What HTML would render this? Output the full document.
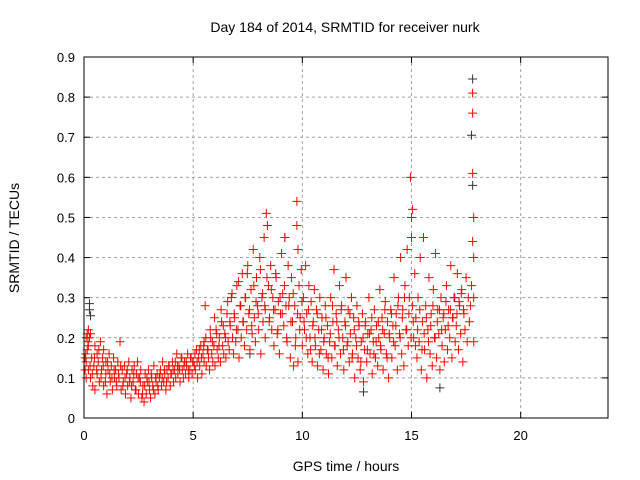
<!DOCTYPE html>
<html><head><meta charset="utf-8"><style>
html,body{margin:0;padding:0;background:#fff;}
svg{display:block;font-family:"Liberation Sans",sans-serif;}
</style></head><body>
<svg id="chart" width="640" height="480">
<text x="345" y="32" font-size="14" text-anchor="middle">Day 184 of 2014, SRMTID for receiver nurk</text>
<text x="346" y="471" font-size="14" text-anchor="middle">GPS time / hours</text>
<text transform="translate(19,238) rotate(-90)" font-size="14" text-anchor="middle">SRMTID / TECUs</text>
<g id="grid"></g>
<g id="ticks"></g>
<g id="marks-black"></g>
<g id="marks-red"></g>
<rect x="84" y="57" width="524" height="361" fill="none" stroke="#000" stroke-width="1"/>
</svg>
<script>
const xTicks=[0,5,10,15,20];
const yTicks=[0,0.1,0.2,0.3,0.4,0.5,0.6,0.7,0.8,0.9];
const yTickLabels=["0","0.1","0.2","0.3","0.4","0.5","0.6","0.7","0.8","0.9"];
const blackHours=[0.25,0.25,0.3,12.8,16.3,17.8,17.8,17.75,9.2,7.6];
const blackValues=[0.27,0.285,0.255,0.065,0.075,0.845,0.58,0.705,0.45,0.16];
const redHours=[0.05,0.05,0.1,0.1,0.1,0.15,0.15,0.2,0.2,0.2,0.25,0.3,0.3,0.35,0.4,0.45,0.5,0.5,0.6,0.6,0.65,0.7,0.75,0.8,0.85,0.9,0.9,1.0,1.0,1.05,1.1,1.15,1.2,1.25,1.3,1.35,1.4,1.45,1.5,1.55,1.6,1.65,1.7,1.75,1.8,1.85,1.9,1.95,2.0,2.05,2.1,2.15,2.2,2.25,2.3,2.35,2.4,2.45,2.5,2.55,2.6,2.65,2.7,2.75,2.8,2.85,2.9,2.95,3.0,3.05,3.1,3.15,3.2,3.25,3.3,3.35,3.4,3.45,3.5,3.55,3.6,3.65,3.7,3.75,3.8,3.85,3.9,3.95,4.0,4.05,4.1,4.15,4.2,4.25,4.3,4.35,4.4,4.45,4.5,4.55,4.6,4.65,4.7,4.75,4.8,4.85,4.9,4.95,5.0,5.05,5.1,5.15,5.2,5.25,5.3,5.35,5.4,5.45,5.5,5.5,5.55,5.6,5.65,5.7,5.75,5.8,5.85,5.9,5.95,6.0,6.05,6.1,6.15,6.2,6.25,6.3,6.35,6.4,6.45,6.5,6.55,6.6,6.65,6.7,6.75,6.8,6.85,6.9,6.95,7.0,7.05,7.1,7.15,7.2,7.25,7.3,7.35,7.4,7.45,7.5,7.55,7.6,7.65,7.7,7.75,7.8,7.85,7.9,7.95,8.0,8.05,8.1,8.15,8.2,8.25,8.3,8.3,8.35,8.4,8.45,8.5,8.55,8.6,8.65,8.7,8.75,8.8,8.85,8.9,8.95,9.0,9.05,9.1,9.15,9.2,9.25,9.3,9.35,9.4,9.45,9.5,9.55,9.6,9.65,9.7,9.75,9.75,9.8,9.8,9.85,9.9,9.95,10.0,10.05,10.1,10.15,10.2,10.25,10.3,10.35,10.4,10.45,10.5,10.55,10.6,10.65,10.7,10.75,10.8,10.85,10.9,10.95,11.0,11.05,11.1,11.15,11.2,11.25,11.3,11.35,11.4,11.45,11.5,11.55,11.6,11.65,11.7,11.75,11.8,11.85,11.9,11.95,12.0,12.05,12.1,12.15,12.2,12.25,12.3,12.35,12.4,12.45,12.5,12.55,12.6,12.65,12.7,12.75,12.8,12.85,12.9,12.95,13.0,13.05,13.1,13.15,13.2,13.25,13.3,13.35,13.4,13.45,13.5,13.55,13.6,13.65,13.7,13.75,13.8,13.85,13.9,13.95,14.0,14.05,14.1,14.15,14.2,14.25,14.3,14.35,14.4,14.45,14.5,14.55,14.6,14.65,14.7,14.75,14.8,14.85,14.9,14.95,15.0,15.0,15.05,15.05,15.1,15.15,15.2,15.25,15.3,15.35,15.4,15.45,15.5,15.55,15.6,15.65,15.7,15.75,15.8,15.85,15.9,15.95,16.0,16.05,16.1,16.15,16.2,16.25,16.3,16.35,16.4,16.45,16.5,16.55,16.6,16.65,16.7,16.75,16.8,16.85,16.9,16.95,17.0,17.05,17.1,17.15,17.2,17.25,17.3,17.35,17.4,17.45,17.5,17.55,17.6,17.65,17.7,17.75,17.8,17.8,17.8,17.8,17.85,17.85,17.85,17.85];
const redValues=[0.12,0.15,0.1,0.2,0.14,0.21,0.17,0.22,0.12,0.18,0.2,0.1,0.21,0.15,0.08,0.13,0.18,0.07,0.11,0.16,0.14,0.09,0.19,0.12,0.15,0.08,0.17,0.11,0.14,0.06,0.12,0.16,0.09,0.13,0.07,0.15,0.1,0.12,0.08,0.14,0.1,0.19,0.07,0.12,0.09,0.13,0.06,0.11,0.08,0.14,0.1,0.05,0.12,0.09,0.13,0.07,0.11,0.14,0.06,0.1,0.12,0.05,0.08,0.04,0.11,0.06,0.09,0.12,0.07,0.05,0.1,0.08,0.13,0.06,0.09,0.11,0.07,0.1,0.12,0.08,0.14,0.09,0.11,0.07,0.12,0.1,0.13,0.08,0.11,0.14,0.09,0.12,0.1,0.16,0.11,0.13,0.09,0.15,0.12,0.1,0.14,0.11,0.13,0.16,0.1,0.12,0.15,0.11,0.14,0.13,0.12,0.17,0.1,0.15,0.13,0.18,0.11,0.16,0.14,0.19,0.28,0.13,0.17,0.15,0.12,0.2,0.16,0.14,0.18,0.13,0.22,0.17,0.15,0.2,0.14,0.24,0.18,0.16,0.21,0.15,0.26,0.19,0.17,0.23,0.3,0.2,0.16,0.25,0.19,0.33,0.22,0.15,0.28,0.2,0.36,0.24,0.18,0.3,0.22,0.38,0.26,0.17,0.32,0.21,0.42,0.25,0.19,0.35,0.28,0.22,0.4,0.16,0.3,0.24,0.45,0.27,0.2,0.51,0.48,0.33,0.25,0.38,0.22,0.3,0.18,0.27,0.35,0.21,0.29,0.16,0.26,0.41,0.31,0.23,0.45,0.28,0.19,0.38,0.3,0.15,0.35,0.24,0.13,0.28,0.2,0.54,0.48,0.42,0.14,0.33,0.25,0.37,0.18,0.3,0.22,0.38,0.26,0.16,0.33,0.2,0.29,0.14,0.24,0.32,0.18,0.27,0.13,0.22,0.3,0.17,0.25,0.12,0.2,0.28,0.16,0.23,0.11,0.19,0.3,0.15,0.24,0.37,0.18,0.26,0.13,0.22,0.33,0.16,0.28,0.2,0.12,0.24,0.35,0.18,0.27,0.14,0.21,0.3,0.16,0.25,0.1,0.2,0.28,0.15,0.23,0.12,0.19,0.26,0.09,0.17,0.24,0.14,0.21,0.3,0.16,0.22,0.11,0.19,0.27,0.15,0.23,0.13,0.2,0.32,0.17,0.25,0.12,0.21,0.29,0.16,0.24,0.1,0.2,0.27,0.15,0.23,0.35,0.18,0.26,0.12,0.3,0.21,0.4,0.16,0.27,0.13,0.33,0.22,0.42,0.18,0.3,0.6,0.5,0.45,0.28,0.52,0.2,0.36,0.25,0.15,0.3,0.19,0.4,0.12,0.24,0.45,0.17,0.28,0.1,0.22,0.35,0.16,0.26,0.13,0.32,0.2,0.41,0.15,0.27,0.21,0.12,0.3,0.18,0.25,0.14,0.22,0.33,0.17,0.27,0.2,0.38,0.15,0.25,0.3,0.19,0.23,0.36,0.17,0.28,0.21,0.32,0.14,0.26,0.22,0.35,0.19,0.3,0.24,0.28,0.33,0.81,0.76,0.61,0.44,0.5,0.4,0.3,0.19];
const redHours2=[0.08,0.18,0.28,0.38,0.48,0.58,0.68,0.78,0.88,0.98,1.08,1.18,1.28,1.38,1.48,1.58,1.68,1.78,1.88,1.98,2.08,2.18,2.28,2.38,2.48,2.58,2.68,2.78,2.88,2.98,3.08,3.18,3.28,3.38,3.48,3.58,3.68,3.78,3.88,3.98,4.08,4.18,4.28,4.38,4.48,4.58,4.68,4.78,4.88,4.98,5.08,5.18,5.28,5.38,5.48,5.58,5.68,5.78,5.88,5.98,6.08,6.18,6.28,6.38,6.48,6.58,6.68,6.78,6.88,6.98,7.08,7.18,7.28,7.38,7.48,7.58,7.68,7.78,7.88,7.98,8.08,8.18,8.28,8.38,8.48,8.58,8.68,8.78,8.88,8.98,9.08,9.18,9.28,9.38,9.48,9.58,9.68,9.78,9.88,9.98,10.08,10.18,10.28,10.38,10.48,10.58,10.68,10.78,10.88,10.98,11.08,11.18,11.28,11.38,11.48,11.58,11.68,11.78,11.88,11.98,12.08,12.18,12.28,12.38,12.48,12.58,12.68,12.78,12.88,12.98,13.08,13.18,13.28,13.38,13.48,13.58,13.68,13.78,13.88,13.98,14.08,14.18,14.28,14.38,14.48,14.58,14.68,14.78,14.88,14.98,15.08,15.18,15.28,15.38,15.48,15.58,15.68,15.78,15.88,15.98,16.08,16.18,16.28,16.38,16.48,16.58,16.68,16.78,16.88,16.98,17.08,17.18,17.28,17.38,17.48,17.58,17.68,17.74];
const redValues2=[0.16,0.19,0.13,0.11,0.15,0.12,0.17,0.1,0.13,0.09,0.14,0.11,0.1,0.12,0.09,0.11,0.13,0.08,0.1,0.12,0.09,0.08,0.11,0.07,0.1,0.09,0.06,0.08,0.1,0.09,0.11,0.07,0.1,0.08,0.11,0.1,0.12,0.09,0.13,0.11,0.12,0.14,0.13,0.12,0.15,0.13,0.14,0.12,0.15,0.14,0.16,0.14,0.17,0.15,0.18,0.2,0.17,0.22,0.19,0.25,0.21,0.18,0.27,0.23,0.2,0.29,0.24,0.31,0.26,0.22,0.34,0.28,0.24,0.3,0.36,0.27,0.23,0.33,0.29,0.26,0.37,0.31,0.28,0.35,0.24,0.32,0.27,0.36,0.22,0.3,0.26,0.33,0.2,0.28,0.24,0.31,0.18,0.26,0.22,0.29,0.24,0.2,0.27,0.17,0.23,0.2,0.26,0.16,0.22,0.19,0.25,0.15,0.21,0.28,0.18,0.24,0.2,0.27,0.17,0.23,0.19,0.26,0.15,0.22,0.18,0.24,0.14,0.2,0.23,0.17,0.21,0.25,0.16,0.19,0.24,0.18,0.22,0.27,0.15,0.21,0.26,0.19,0.23,0.28,0.2,0.25,0.3,0.22,0.26,0.2,0.24,0.18,0.22,0.27,0.17,0.21,0.25,0.19,0.23,0.28,0.2,0.24,0.27,0.22,0.26,0.29,0.23,0.27,0.25,0.3,0.26,0.29,0.31,0.27];
const X0=84,X1=608,Y0=418,Y1=57;
function xs(h){return X0+(h/24)*(X1-X0);}
function ys(v){return Y0-(v/0.9)*(Y0-Y1);}
const NS="http://www.w3.org/2000/svg";
const grid=document.getElementById('grid'),ticks=document.getElementById('ticks');
function mk(tag,attrs,parent){const e=document.createElementNS(NS,tag);for(const k in attrs)e.setAttribute(k,attrs[k]);parent.appendChild(e);return e;}
xTicks.forEach(t=>{
  const x=xs(t);
  if(t>0){const g=mk('line',{x1:x,x2:x,y1:Y1,y2:Y0,stroke:'#a0a0a0','stroke-dasharray':'3,3'},grid);
  
  }
  mk('line',{x1:x,x2:x,y1:Y0,y2:Y0-6,stroke:'#000'},ticks);
  mk('line',{x1:x,x2:x,y1:Y1,y2:Y1+6,stroke:'#000'},ticks);
  const tx=mk('text',{x:x,y:Y0+22,'font-size':13,'text-anchor':'middle'},ticks);
  tx.textContent=t;
  
  
});
yTicks.forEach((t,i)=>{
  const y=ys(t);
  if(i>0&&i<yTicks.length-1){const g=mk('line',{x1:X0,x2:X1,y1:y,y2:y,stroke:'#a0a0a0','stroke-dasharray':'3,3'},grid);
  
  }
  mk('line',{x1:X0,x2:X0+6,y1:y,y2:y,stroke:'#000'},ticks);
  mk('line',{x1:X1,x2:X1-6,y1:y,y2:y,stroke:'#000'},ticks);
  const tx=mk('text',{x:X0-9,y:y+5,'font-size':13,'text-anchor':'end'},ticks);
  tx.textContent=yTickLabels[i];
  
  
});
function plus(h,v,color,parent){
  const x=xs(h),y=ys(v);
  const p=mk('path',{d:`M${x-4.5},${y}h9M${x},${y-4.5}v9`,stroke:color,'stroke-width':1,fill:'none'},parent);
  
  
}
const gb=document.getElementById('marks-black'),gr=document.getElementById('marks-red');
blackHours.forEach((h,i)=>plus(h,blackValues[i],'#333',gb));
redHours.forEach((h,i)=>plus(h,redValues[i],'#ff0000',gr));
redHours2.forEach((h,i)=>plus(h,redValues2[i],'#ff0000',gr));
</script>
</body></html>
